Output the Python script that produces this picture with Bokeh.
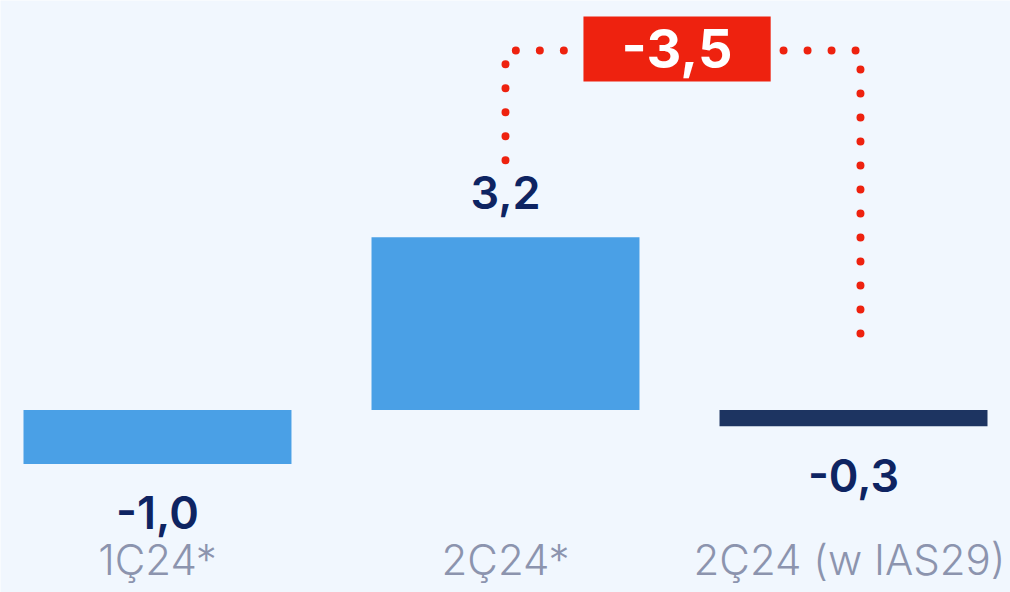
from bokeh.plotting import figure
from bokeh.models import Range1d, ColumnDataSource
from bokeh.core.properties import value
from bokeh.embed import file_html
from bokeh.resources import INLINE

# ---- data ----
categories = ["1Ç24*", "2Ç24*", "2Ç24 (w IAS29)"]
values = [-1.0, 3.2, -0.3]
bar_colors = ["#4AA0E6", "#4AA0E6", "#1D3461"]
delta = values[2] - values[1]          # -3.5


def fmt(v):
    return f"{v:.1f}".replace(".", ",")


BG = "#F1F7FE"
NAVY = "#0E2462"
GREY = "#8C94AE"
RED = "#EE220F"
VAL_FONT = value("Inter SemiBold, Inter")
CAT_FONT = value("Inter Light, Inter")
BOX_FONT = value("Inter")
SHIFT = -17  # svg alphabetic baseline correction (px)

W, H = 1010, 592
p = figure(width=W, height=H, output_backend="svg", toolbar_location=None,
           x_range=Range1d(-0.4511, 2.4511), y_range=Range1d(-3.380, 7.583),
           min_border=0, background_fill_color=BG, border_fill_color=BG)
p.outline_line_color = None
p.axis.visible = False
p.grid.visible = False

xs = list(range(len(categories)))
src = ColumnDataSource(dict(x=xs, top=values, color=bar_colors,
                            cat=categories, lab=[fmt(v) for v in values],
                            xoff=[0, 0, -4]))

p.vbar(x="x", top="top", bottom=0, width=0.77, fill_color="color",
       line_color=None, source=src)

# value labels
pos = [i for i, v in enumerate(values) if v >= 0]
neg = [i for i, v in enumerate(values) if v < 0]
p.text(x=[xs[i] for i in pos], y=[values[i] for i in pos],
       text=[fmt(values[i]) for i in pos], text_align="center",
       text_baseline="alphabetic", y_offset=-28 + SHIFT, text_color=NAVY,
       text_font=VAL_FONT, text_font_size="45px")
p.text(x=[xs[i] for i in neg], y=[values[i] for i in neg],
       text=[fmt(values[i]) for i in neg], text_align="center",
       text_baseline="alphabetic", y_offset=66 + SHIFT, text_color=NAVY,
       text_font=VAL_FONT, text_font_size="45px")

# category labels
p.text(x="x", y=-3.083, text="cat", source=src, text_align="center",
       text_baseline="alphabetic", y_offset=SHIFT, x_offset="xoff",
       text_color=GREY, text_font=CAT_FONT, text_font_size="42px")

# dotted bracket between bar 2 and bar 3
left_x, right_x = xs[1], xs[2] + 0.02
top_y = 6.657
p.line(x=[left_x, left_x, 1.172], y=[4.626, top_y, top_y], line_color=RED,
       line_width=8, line_dash="0 24", line_cap="round")
p.line(x=[1.799, right_x, right_x], y=[top_y, top_y, 1.343], line_color=RED,
       line_width=8, line_dash="0 24", line_cap="round")

# delta box
p.quad(left=1.224, right=1.762, bottom=6.083, top=7.287, fill_color=RED,
       line_color=None)
p.text(x=[1.493], y=[6.38], text=[fmt(delta)], text_align="center",
       text_baseline="alphabetic", y_offset=SHIFT, text_color="white",
       text_font=BOX_FONT, text_font_size="54px", text_font_style="bold")

open("out.html", "w").write(file_html(p, INLINE))
